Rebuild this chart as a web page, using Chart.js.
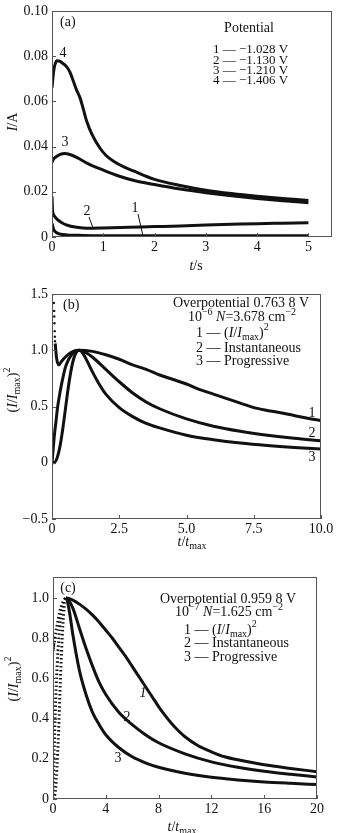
<!DOCTYPE html>
<html>
<head>
<meta charset="utf-8">
<script src="https://cdn.jsdelivr.net/npm/chart.js@4.4.0/dist/chart.umd.min.js"></script>
<style>
body { margin: 0; background: #fff; }
.panel { position: absolute; left: 0; width: 337px; }
</style>
</head>
<body>
<div class="panel" style="top:0px"><canvas id="chart-a" width="337" height="280"></canvas></div>
<div class="panel" style="top:280px"><canvas id="chart-b" width="337" height="280"></canvas></div>
<div class="panel" style="top:560px"><canvas id="chart-c" width="337" height="273"></canvas></div>
<script>
/// panel (a) data : current vs time
const aT1 = [0, 0.03, 0.08, 0.15, 0.3, 0.6, 1.0, 2.0, 3.0, 4.0, 5.0];
const aI1 = [0.006, 0.0035, 0.002, 0.0013, 0.0009, 0.0007, 0.0006, 0.0006, 0.0006, 0.0006, 0.0006];
const aT2 = [0, 0.01, 0.02, 0.05, 0.1, 0.2, 0.3, 0.45, 0.6, 0.8, 1.0, 1.5, 2.0, 2.5, 3.0, 3.5, 4.0, 4.5, 5.0];
const aI2 = [0.018, 0.012, 0.0105, 0.0092, 0.0078, 0.0062, 0.0052, 0.0044, 0.004, 0.0039, 0.004, 0.0043, 0.0046, 0.0049, 0.0053, 0.0056, 0.0059, 0.0061, 0.0063];
const aT3 = [0, 0.03, 0.08, 0.15, 0.25, 0.35, 0.5, 0.7, 1.0, 1.3, 1.6, 2.0, 2.5, 3.0, 3.5, 4.0, 4.5, 5.0];
const aI3 = [0.033, 0.0345, 0.0355, 0.0365, 0.037, 0.0365, 0.035, 0.0325, 0.0296, 0.027, 0.025, 0.0232, 0.0212, 0.0196, 0.0182, 0.017, 0.016, 0.0152];
const aT4 = [0, 0.03, 0.06, 0.1, 0.15, 0.2, 0.28, 0.35, 0.41, 0.48, 0.54, 0.6, 0.68, 0.78, 0.93, 1.05, 1.2, 1.4, 1.6, 1.8, 2.0, 2.5, 3.0, 3.5, 4.0, 4.5, 5.0];
const aI4 = [0.066, 0.073, 0.0765, 0.078, 0.0778, 0.077, 0.0755, 0.073, 0.0694, 0.065, 0.062, 0.0575, 0.051, 0.0454, 0.0395, 0.0362, 0.0335, 0.031, 0.0291, 0.0272, 0.0255, 0.0228, 0.0207, 0.0192, 0.018, 0.017, 0.0162];
const aXTicks = [0, 1, 2, 3, 4, 5];
const aYTicks = [0, 0.02, 0.04, 0.06, 0.08, 0.10];
const aYLabels = ['0', '0.02', '0.04', '0.06', '0.08', '0.10'];
const aLegend = ['1 \u2014 \u22121.028 V', '2 \u2014 \u22121.130 V', '3 \u2014 \u22121.210 V', '4 \u2014 \u22121.406 V'];

/// panel (b) data : normalised transients
const bDotT = [0.06, 0.07, 0.08, 0.085, 0.09, 0.1, 0.105, 0.11];
const bDotY = [1.5, 1.42, 1.35, 1.3, 1.24, 1.17, 1.12, 1.08];
const bT1 = [0.12, 0.17, 0.25, 0.35, 0.5, 0.7, 1.0, 1.5, 2.0, 2.5, 3.0, 3.5, 4.0, 4.5, 5.0, 5.5, 6.0, 6.5, 7.0, 7.5, 8.0, 8.5, 9.0, 9.5, 10.0];
const bY1 = [1.06, 0.93, 0.87, 0.9, 0.94, 0.98, 1.0, 0.99, 0.96, 0.92, 0.87, 0.83, 0.78, 0.74, 0.7, 0.65, 0.61, 0.57, 0.53, 0.49, 0.465, 0.445, 0.42, 0.395, 0.375];
const bT2 = [0, 0.05, 0.1, 0.15, 0.2, 0.3, 0.4, 0.5, 0.6, 0.7, 0.8, 1.0, 1.25, 1.5, 2.0, 2.5, 3.0, 3.5, 4.0, 5.0, 6.0, 7.0, 8.0, 9.0, 10.0];
const bY2 = [0, 0.14, 0.27, 0.37, 0.48, 0.63, 0.75, 0.85, 0.91, 0.95, 0.98, 1.0, 0.98, 0.94, 0.83, 0.72, 0.62, 0.54, 0.48, 0.39, 0.325, 0.28, 0.245, 0.217, 0.195];
const bT3 = [0, 0.1, 0.2, 0.3, 0.4, 0.5, 0.6, 0.7, 0.8, 0.9, 1.0, 1.1, 1.25, 1.5, 1.75, 2.0, 2.5, 3.0, 3.5, 4.0, 5.0, 6.0, 7.0, 8.0, 9.0, 10.0];
const bY3 = [0, 0.004, 0.05, 0.15, 0.3, 0.48, 0.66, 0.81, 0.92, 0.98, 1.0, 0.99, 0.93, 0.81, 0.7, 0.61, 0.49, 0.41, 0.35, 0.31, 0.245, 0.205, 0.175, 0.153, 0.136, 0.123];
const bXTicks = [0, 2.5, 5, 7.5, 10];
const bXLabels = ['0', '2.5', '5.0', '7.5', '10.0'];
const bYTicks = [-0.5, 0, 0.5, 1.0, 1.5];
const bYLabels = ['\u22120.5', '0', '0.5', '1.0', '1.5'];

/// panel (c) data
const cDotT = [0.03, 0.05, 0.07, 0.09];
const cDotY = [0.74, 0.75, 0.76, 0.77];
const cT1 = [0.1, 0.3, 0.5, 0.75, 1.0, 1.5, 2.0, 2.5, 3.0, 3.5, 4.0, 4.5, 5.0, 5.5, 6.0, 6.5, 7.0, 7.5, 8.0, 8.5, 9.0, 9.5, 10, 11, 12, 13, 14, 16, 18, 20];
const cY1 = [0.78, 0.86, 0.93, 0.98, 1.0, 0.99, 0.97, 0.945, 0.915, 0.88, 0.84, 0.8, 0.755, 0.71, 0.66, 0.61, 0.56, 0.51, 0.46, 0.415, 0.375, 0.34, 0.31, 0.265, 0.235, 0.21, 0.195, 0.17, 0.152, 0.136];
const cT2 = [0, 0.1, 0.25, 0.5, 0.75, 1.0, 1.5, 2.0, 2.5, 3.0, 3.5, 4.0, 5.0, 6.0, 7.0, 8.0, 10, 12, 14, 16, 18, 20];
const cY2 = [0, 0.27, 0.57, 0.85, 0.97, 1.0, 0.95, 0.85, 0.75, 0.66, 0.58, 0.52, 0.43, 0.37, 0.32, 0.28, 0.225, 0.185, 0.158, 0.138, 0.123, 0.11];
const cT3 = [0, 0.2, 0.4, 0.6, 0.8, 1.0, 1.25, 1.5, 2.0, 2.5, 3.0, 3.5, 4.0, 5.0, 6.0, 7.0, 8.0, 10, 12, 14, 16, 18, 20];
const cY3 = [0, 0.05, 0.3, 0.66, 0.92, 1.0, 0.93, 0.82, 0.64, 0.52, 0.43, 0.37, 0.32, 0.255, 0.21, 0.18, 0.158, 0.128, 0.108, 0.095, 0.085, 0.078, 0.072];
const cXTicks = [0, 4, 8, 12, 16, 20];
const cYTicks = [0, 0.2, 0.4, 0.6, 0.8, 1.0];
const cYLabels = ['0', '0.2', '0.4', '0.6', '0.8', '1.0'];

const SERIF = '"Liberation Serif", "DejaVu Serif", serif';

// pair up x and y arrays for chart.js
function pts(xs, ys) {
    return xs.map((x, i) => ({ x: x, y: ys[i] }));
}

function curve(xs, ys, dottedUntil) {
    const d = {
        data: pts(xs, ys),
        borderColor: '#111',
        borderWidth: 3,
        pointRadius: 0,
        cubicInterpolationMode: 'monotone',
        fill: false
    };
    // rising part drawn with dots (panel c)
    if (dottedUntil) {
        d.segment = { borderDash: ctx => ctx.p1.parsed.x <= dottedUntil ? [1.5, 2.5] : undefined };
    }
    return d;
}

function dots(xs, ys) {
    return {
        data: pts(xs, ys), showLine: false,
        pointRadius: 1.2, pointBackgroundColor: '#111', pointBorderWidth: 0
    };
}

// draw text made of several pieces (italic, subscript, superscript)
// piece = [text, italic, scale, dy]
function rich(ctx, parts, x, y, align, size) {
    let w = 0;
    for (p of parts) {
        ctx.font = (p[1] ? 'italic ' : '') + Math.round(size * (p[2] || 1)) + 'px ' + SERIF;
        w += ctx.measureText(p[0]).width;
    }
    let cx = x;
    if (align == 'center') cx = x - w / 2;
    if (align == 'right') cx = x - w;
    ctx.textAlign = 'left';
    ctx.textBaseline = 'middle';
    for (p of parts) {
        ctx.font = (p[1] ? 'italic ' : '') + Math.round(size * (p[2] || 1)) + 'px ' + SERIF;
        ctx.fillText(p[0], cx, y + (p[3] || 0));
        cx += ctx.measureText(p[0]).width;
    }
}

function richRot(ctx, parts, x, y, size) {
    ctx.save();
    ctx.translate(x, y);
    ctx.rotate(-Math.PI / 2);
    rich(ctx, parts, 0, 0, 'center', size);
    ctx.restore();
}

// frame box and small inward ticks
function frame(chart, xt, yt) {
    const ctx = chart.ctx;
    const a = chart.chartArea;
    const sx = chart.scales.x, sy = chart.scales.y;
    ctx.save();
    ctx.strokeStyle = '#555';
    ctx.lineWidth = 1;
    ctx.strokeRect(a.left + 0.5, a.top + 0.5, a.right - a.left - 1, a.bottom - a.top - 1);
    ctx.beginPath();
    for (v of xt) {
        const px = Math.round(sx.getPixelForValue(v)) + 0.5;
        ctx.moveTo(px, a.bottom);
        ctx.lineTo(px, a.bottom - 4);
    }
    for (v of yt) {
        const py = Math.round(sy.getPixelForValue(v)) + 0.5;
        ctx.moveTo(a.left, py);
        ctx.lineTo(a.left + 4, py);
    }
    ctx.stroke();
    ctx.restore();
}

const IMAX2 = [['(', false], ['I', true], ['/', false], ['I', true], ['max', false, 0.72, 4], [')', false], ['2', false, 0.72, -6]];
const TTMAX = [['t', true], ['/', false], ['t', true], ['max', false, 0.72, 4]];

function axes(xmin, xmax, ymin, ymax, xt, xl, yt, yl, ywidth, xheight) {
    return {
        x: {
            type: 'linear', min: xmin, max: xmax,
            grid: { display: false, drawTicks: false },
            border: { display: false },
            afterBuildTicks: s => { s.ticks = xt.map(v => ({ value: v })) },
            afterFit: s => { s.height = xheight },
            ticks: {
                color: '#111', padding: 3, maxRotation: 0, autoSkip: false,
                font: { family: SERIF, size: 14, lineHeight: 1 },
                callback: (v, i) => xl[i]
            }
        },
        y: {
            type: 'linear', min: ymin, max: ymax,
            grid: { display: false, drawTicks: false },
            border: { display: false },
            afterBuildTicks: s => { s.ticks = yt.map(v => ({ value: v })) },
            afterFit: s => { s.width = ywidth },
            ticks: {
                color: '#111', padding: 4, autoSkip: false,
                font: { family: SERIF, size: 14, lineHeight: 1 },
                callback: (v, i) => yl[i]
            }
        }
    };
}

const baseOpts = {
    responsive: false,
    animation: false,
    devicePixelRatio: 1,
    plugins: { legend: { display: false }, tooltip: { enabled: false } }
};

/// CHART (a)
new Chart(document.getElementById('chart-a').getContext('2d'), {
    type: 'line',
    data: { datasets: [curve(aT1, aI1), curve(aT2, aI2), curve(aT3, aI3), curve(aT4, aI4)] },
    options: Object.assign({}, baseOpts, {
        layout: { padding: { left: 0, right: 5, top: 8, bottom: 0 } },
        scales: axes(0, 5.46, 0, 0.10, aXTicks, aXTicks.map(String), aYTicks, aYLabels, 52, 43)
    }),
    plugins: [{
        id: 'decoA',
        afterDraw: function(chart) {
            const ctx = chart.ctx;
            frame(chart, aXTicks, aYTicks);
            ctx.fillStyle = '#111';
            rich(ctx, [['(a)', false]], 60, 22, 'left', 14);
            rich(ctx, [['Potential', false]], 249, 28, 'center', 14);
            aLegend.forEach((t, i) => rich(ctx, [[t, false]], 213, 50 + i * 10.2, 'left', 13));
            // curve numbers
            rich(ctx, [['4', false]], 63, 53, 'center', 14);
            rich(ctx, [['3', false]], 65, 142, 'center', 14);
            rich(ctx, [['2', false]], 87, 211, 'center', 14);
            rich(ctx, [['1', false]], 135, 208, 'center', 14);
            ctx.strokeStyle = '#111';
            ctx.lineWidth = 1;
            ctx.beginPath();
            ctx.moveTo(89, 217); ctx.lineTo(93, 228);
            ctx.moveTo(138, 214); ctx.lineTo(143, 236);
            ctx.stroke();
            // axis titles
            rich(ctx, [['t', true], ['/s', false]], 196, 266, 'center', 14);
            richRot(ctx, [['I', true], ['/A', false]], 13, 122, 14);
        }
    }]
});

/// CHART (b)
new Chart(document.getElementById('chart-b').getContext('2d'), {
    type: 'line',
    data: { datasets: [dots(bDotT, bDotY), curve(bT1, bY1), curve(bT2, bY2), curve(bT3, bY3)] },
    options: Object.assign({}, baseOpts, {
        layout: { padding: { left: 0, right: 16, top: 14, bottom: 0 } },
        scales: axes(0, 10, -0.5, 1.5, bXTicks, bXLabels, bYTicks, bYLabels, 52, 41)
    }),
    plugins: [{
        id: 'decoB',
        afterDraw: function(chart) {
            const ctx = chart.ctx;
            frame(chart, bXTicks, bYTicks);
            ctx.fillStyle = '#111';
            rich(ctx, [['(b)', false]], 63, 25, 'left', 14);
            rich(ctx, [['Overpotential 0.763 8 V', false]], 241, 23, 'center', 14);
            rich(ctx, [['10', false], ['\u22126', false, 0.72, -5], [' ', false], ['N', true], ['=3.678 cm', false], ['\u22122', false, 0.72, -5]], 242, 37, 'center', 14);
            rich(ctx, [['1 \u2014 ', false]].concat(IMAX2), 196, 53, 'left', 14);
            rich(ctx, [['2 \u2014 Instantaneous', false]], 196, 68, 'left', 14);
            rich(ctx, [['3 \u2014 Progressive', false]], 196, 81, 'left', 14);
            rich(ctx, [['1', false]], 312, 133, 'center', 14);
            rich(ctx, [['2', false]], 312, 153, 'center', 14);
            rich(ctx, [['3', false]], 312, 177, 'center', 14);
            rich(ctx, TTMAX, 192, 262, 'center', 14);
            richRot(ctx, IMAX2, 13, 110, 14);
        }
    }]
});

/// CHART (c)
new Chart(document.getElementById('chart-c').getContext('2d'), {
    type: 'line',
    data: { datasets: [dots(cDotT, cDotY), curve(cT1, cY1, 1.0), curve(cT2, cY2, 1.0), curve(cT3, cY3, 1.0)] },
    options: Object.assign({}, baseOpts, {
        layout: { padding: { left: 0, right: 20, top: 17, bottom: 0 } },
        scales: axes(0, 20, 0, 1.105, cXTicks, cXTicks.map(String), cYTicks, cYLabels, 53, 34)
    }),
    plugins: [{
        id: 'decoC',
        afterDraw: function(chart) {
            const ctx = chart.ctx;
            frame(chart, cXTicks, cYTicks);
            ctx.fillStyle = '#111';
            rich(ctx, [['(c)', false]], 68, 28, 'center', 14);
            rich(ctx, [['Overpotential 0.959 8 V', false]], 228, 39, 'center', 14);
            rich(ctx, [['10', false], ['\u22127', false, 0.72, -5], [' ', false], ['N', true], ['=1.625 cm', false], ['\u22122', false, 0.72, -5]], 229, 52, 'center', 14);
            rich(ctx, [['1 \u2014 ', false]].concat(IMAX2), 184, 70, 'left', 14);
            rich(ctx, [['2 \u2014 Instantaneous', false]], 184, 83, 'left', 14);
            rich(ctx, [['3 \u2014 Progressive', false]], 184, 97, 'left', 14);
            rich(ctx, [['1', true]], 143, 133, 'center', 14);
            rich(ctx, [['2', false]], 127, 157, 'center', 14);
            rich(ctx, [['3', false]], 118, 198, 'center', 14);
            rich(ctx, TTMAX, 182, 267, 'center', 14);
            richRot(ctx, IMAX2, 14, 119, 14);
        }
    }]
});
</script>
</body>
</html>
